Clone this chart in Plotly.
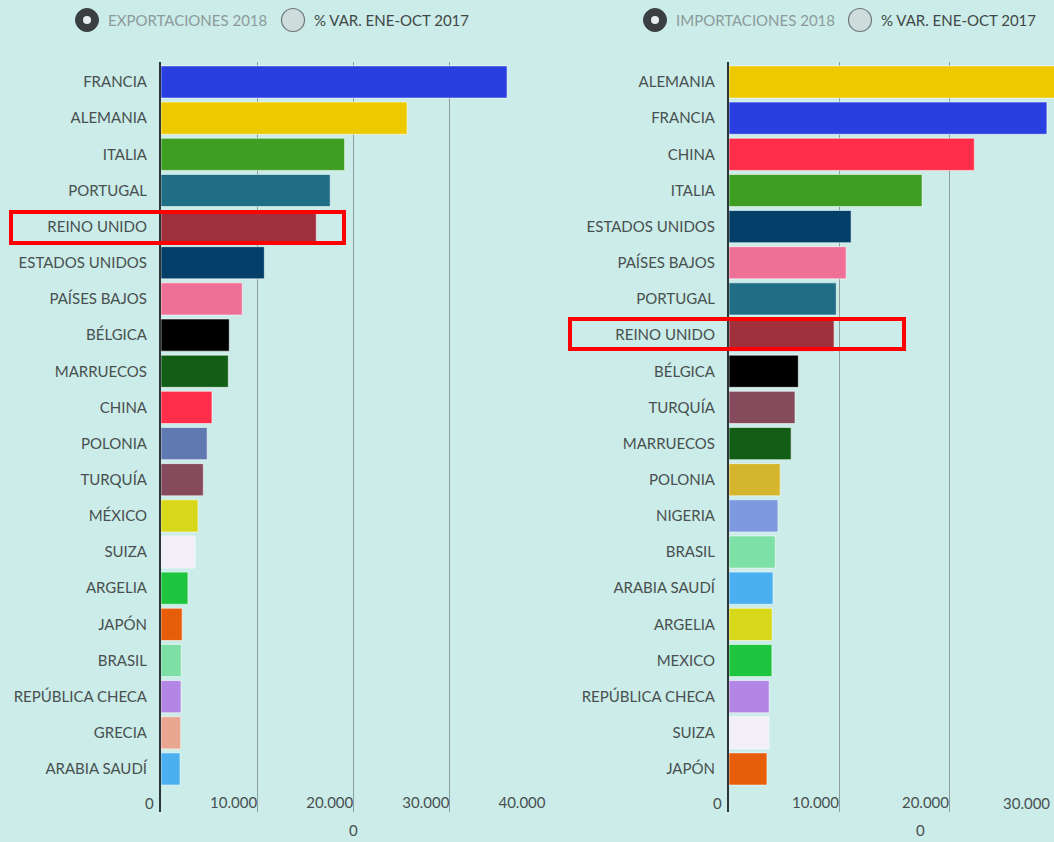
import plotly.graph_objects as go

W, H = 1054, 842

# ---------------- data ----------------
exp_countries = ["FRANCIA", "ALEMANIA", "ITALIA", "PORTUGAL", "REINO UNIDO", "ESTADOS UNIDOS",
                 "PAÍSES BAJOS", "BÉLGICA", "MARRUECOS", "CHINA", "POLONIA", "TURQUÍA", "MÉXICO",
                 "SUIZA", "ARGELIA", "JAPÓN", "BRASIL", "REPÚBLICA CHECA", "GRECIA", "ARABIA SAUDÍ"]
exp_values = [36000, 25600, 19100, 17600, 16150, 10750, 8450, 7100, 7000, 5300, 4800, 4400,
              3850, 3550, 2800, 2200, 2100, 2080, 2050, 1980]
exp_colors = ["#2a3fe0", "#eec900", "#3d9e22", "#1f6e85", "#a0303c", "#033f68", "#ee7096",
              "#000000", "#135e16", "#ff2d4a", "#6079b0", "#854a5c", "#d8d81a", "#f3eff6",
              "#1ec63f", "#e85d0a", "#7ddea6", "#b386e6", "#e9a690", "#4ab0f0"]

imp_countries = ["ALEMANIA", "FRANCIA", "CHINA", "ITALIA", "ESTADOS UNIDOS", "PAÍSES BAJOS",
                 "PORTUGAL", "REINO UNIDO", "BÉLGICA", "TURQUÍA", "MARRUECOS", "POLONIA", "NIGERIA",
                 "BRASIL", "ARABIA SAUDÍ", "ARGELIA", "MEXICO", "REPÚBLICA CHECA", "SUIZA", "JAPÓN"]
imp_values = [31500, 28900, 22300, 17550, 11100, 10650, 9750, 9550, 6300, 6000, 5650, 4650,
              4450, 4200, 4000, 3920, 3900, 3650, 3640, 3450]
imp_colors = ["#eec900", "#2a3fe0", "#ff2d4a", "#3d9e22", "#033f68", "#ee7096", "#1f6e85",
              "#a0303c", "#000000", "#854a5c", "#135e16", "#d4b52b", "#7d99e0", "#7de0a6",
              "#4ab0f0", "#d8d81a", "#1ec63f", "#b386e6", "#f3eff6", "#e85d0a"]

x_ticks = [0, 10000, 20000, 30000, 40000]
x_ticklabels = ["0", "10.000", "20.000", "30.000", "40.000"]

legend_left = ["EXPORTACIONES 2018", "% VAR. ENE-OCT 2017"]
legend_right = ["IMPORTACIONES 2018", "% VAR. ENE-OCT 2017"]

# ---------------- helpers ----------------
def px(x):
    return x / W

def py(y):
    return 1 - y / H

BG = "#cbece8"
FONT = "Lato, 'Open Sans', sans-serif"
TXT = "#485050"
GRID = "#8f9c9c"
AXIS = "#2c3636"
FS = 15

fig = go.Figure()

fig.add_trace(go.Bar(
    x=exp_values, y=exp_countries, orientation="h",
    marker=dict(color=exp_colors, line=dict(color="rgba(255,255,255,0.55)", width=1)),
    xaxis="x", yaxis="y", showlegend=False, hoverinfo="x+y"))
fig.add_trace(go.Bar(
    x=imp_values, y=imp_countries, orientation="h",
    marker=dict(color=imp_colors, line=dict(color="rgba(255,255,255,0.55)", width=1)),
    xaxis="x2", yaxis="y2", showlegend=False, hoverinfo="x+y"))

ydom = [py(812), py(62)]
yrange = [20.19, -0.553]

xcommon = dict(
    tickvals=x_ticks, ticktext=x_ticklabels, ticklabelposition="inside left",
    ticklabelstandoff=-5,
    showgrid=True, gridcolor=GRID, gridwidth=1, zeroline=False, showline=False,
    tickfont=dict(family=FONT, size=FS, color=TXT), fixedrange=True, ticks="",
)
ycommon = dict(
    type="category", range=yrange, showgrid=False, zeroline=False,
    showline=True, linecolor=AXIS, linewidth=2, ticks="", ticklabelstandoff=9,
    tickfont=dict(family=FONT, size=FS, color=TXT), domain=ydom, fixedrange=True,
)

fig.update_layout(
    width=W, height=H,
    margin=dict(l=0, r=0, t=0, b=0),
    paper_bgcolor=BG, plot_bgcolor=BG,
    separators=",.",
    bargap=0.11,
    xaxis=dict(domain=[px(161), px(546)], range=[0, 40050], anchor="y", **xcommon),
    yaxis=dict(anchor="x", categoryorder="array", categoryarray=exp_countries, **ycommon),
    xaxis2=dict(domain=[px(729), 1.0], range=[0, 29545], anchor="y2", **xcommon),
    yaxis2=dict(anchor="x2", categoryorder="array", categoryarray=imp_countries, **ycommon),
)

shapes = []
annotations = []

def label(x, y, text, anchor="center", color=TXT, size=FS):
    annotations.append(dict(x=px(x), y=py(y), xref="paper", yref="paper", text=text,
                            showarrow=False, font=dict(family=FONT, size=size, color=color),
                            xanchor=anchor, yanchor="middle"))

# axis titles "0"
label(353, 830, "0")
label(920, 830, "0")
# "0" tick labels left of the axes, clipped 30.000 label on right chart
label(156, 803, x_ticklabels[0], "right")
label(724, 803, x_ticklabels[0], "right")
label(1052, 803, x_ticklabels[3], "right")

# legends
def legend(cx1, cx2, labels):
    r = 11.5
    shapes.append(dict(type="circle", xref="paper", yref="paper",
                       x0=px(cx1 - r), x1=px(cx1 + r), y0=py(20 + r), y1=py(20 - r),
                       fillcolor="#3a3f42", line=dict(color="#3a3f42", width=1)))
    shapes.append(dict(type="circle", xref="paper", yref="paper",
                       x0=px(cx1 - 4), x1=px(cx1 + 4), y0=py(24), y1=py(16),
                       fillcolor="#e6eeee", line=dict(width=0)))
    shapes.append(dict(type="circle", xref="paper", yref="paper",
                       x0=px(cx2 - r), x1=px(cx2 + r), y0=py(20 + r), y1=py(20 - r),
                       fillcolor="#cfdcdc", line=dict(color="#6d7777", width=1.2)))
    label(cx1 + 19, 20, labels[0], "left", "#8d9a9a")
    label(cx2 + 19, 20, labels[1], "left", "#3f4747")

legend(87, 293, legend_left)
legend(655, 860, legend_right)

# red highlight boxes
for (x0, x1, y0, y1) in [(11, 344, 212, 243), (570, 904, 319, 349)]:
    shapes.append(dict(type="rect", xref="paper", yref="paper",
                       x0=px(x0), x1=px(x1), y0=py(y1), y1=py(y0),
                       line=dict(color="#ff0000", width=4), fillcolor="rgba(0,0,0,0)"))

fig.update_layout(shapes=shapes, annotations=annotations)

fig.write_html(
    "out.html",
    config={"displayModeBar": False},
    post_script="document.body.style.margin='0';document.body.style.background='%s';"
                "document.body.style.overflow='hidden';" % BG,
)
